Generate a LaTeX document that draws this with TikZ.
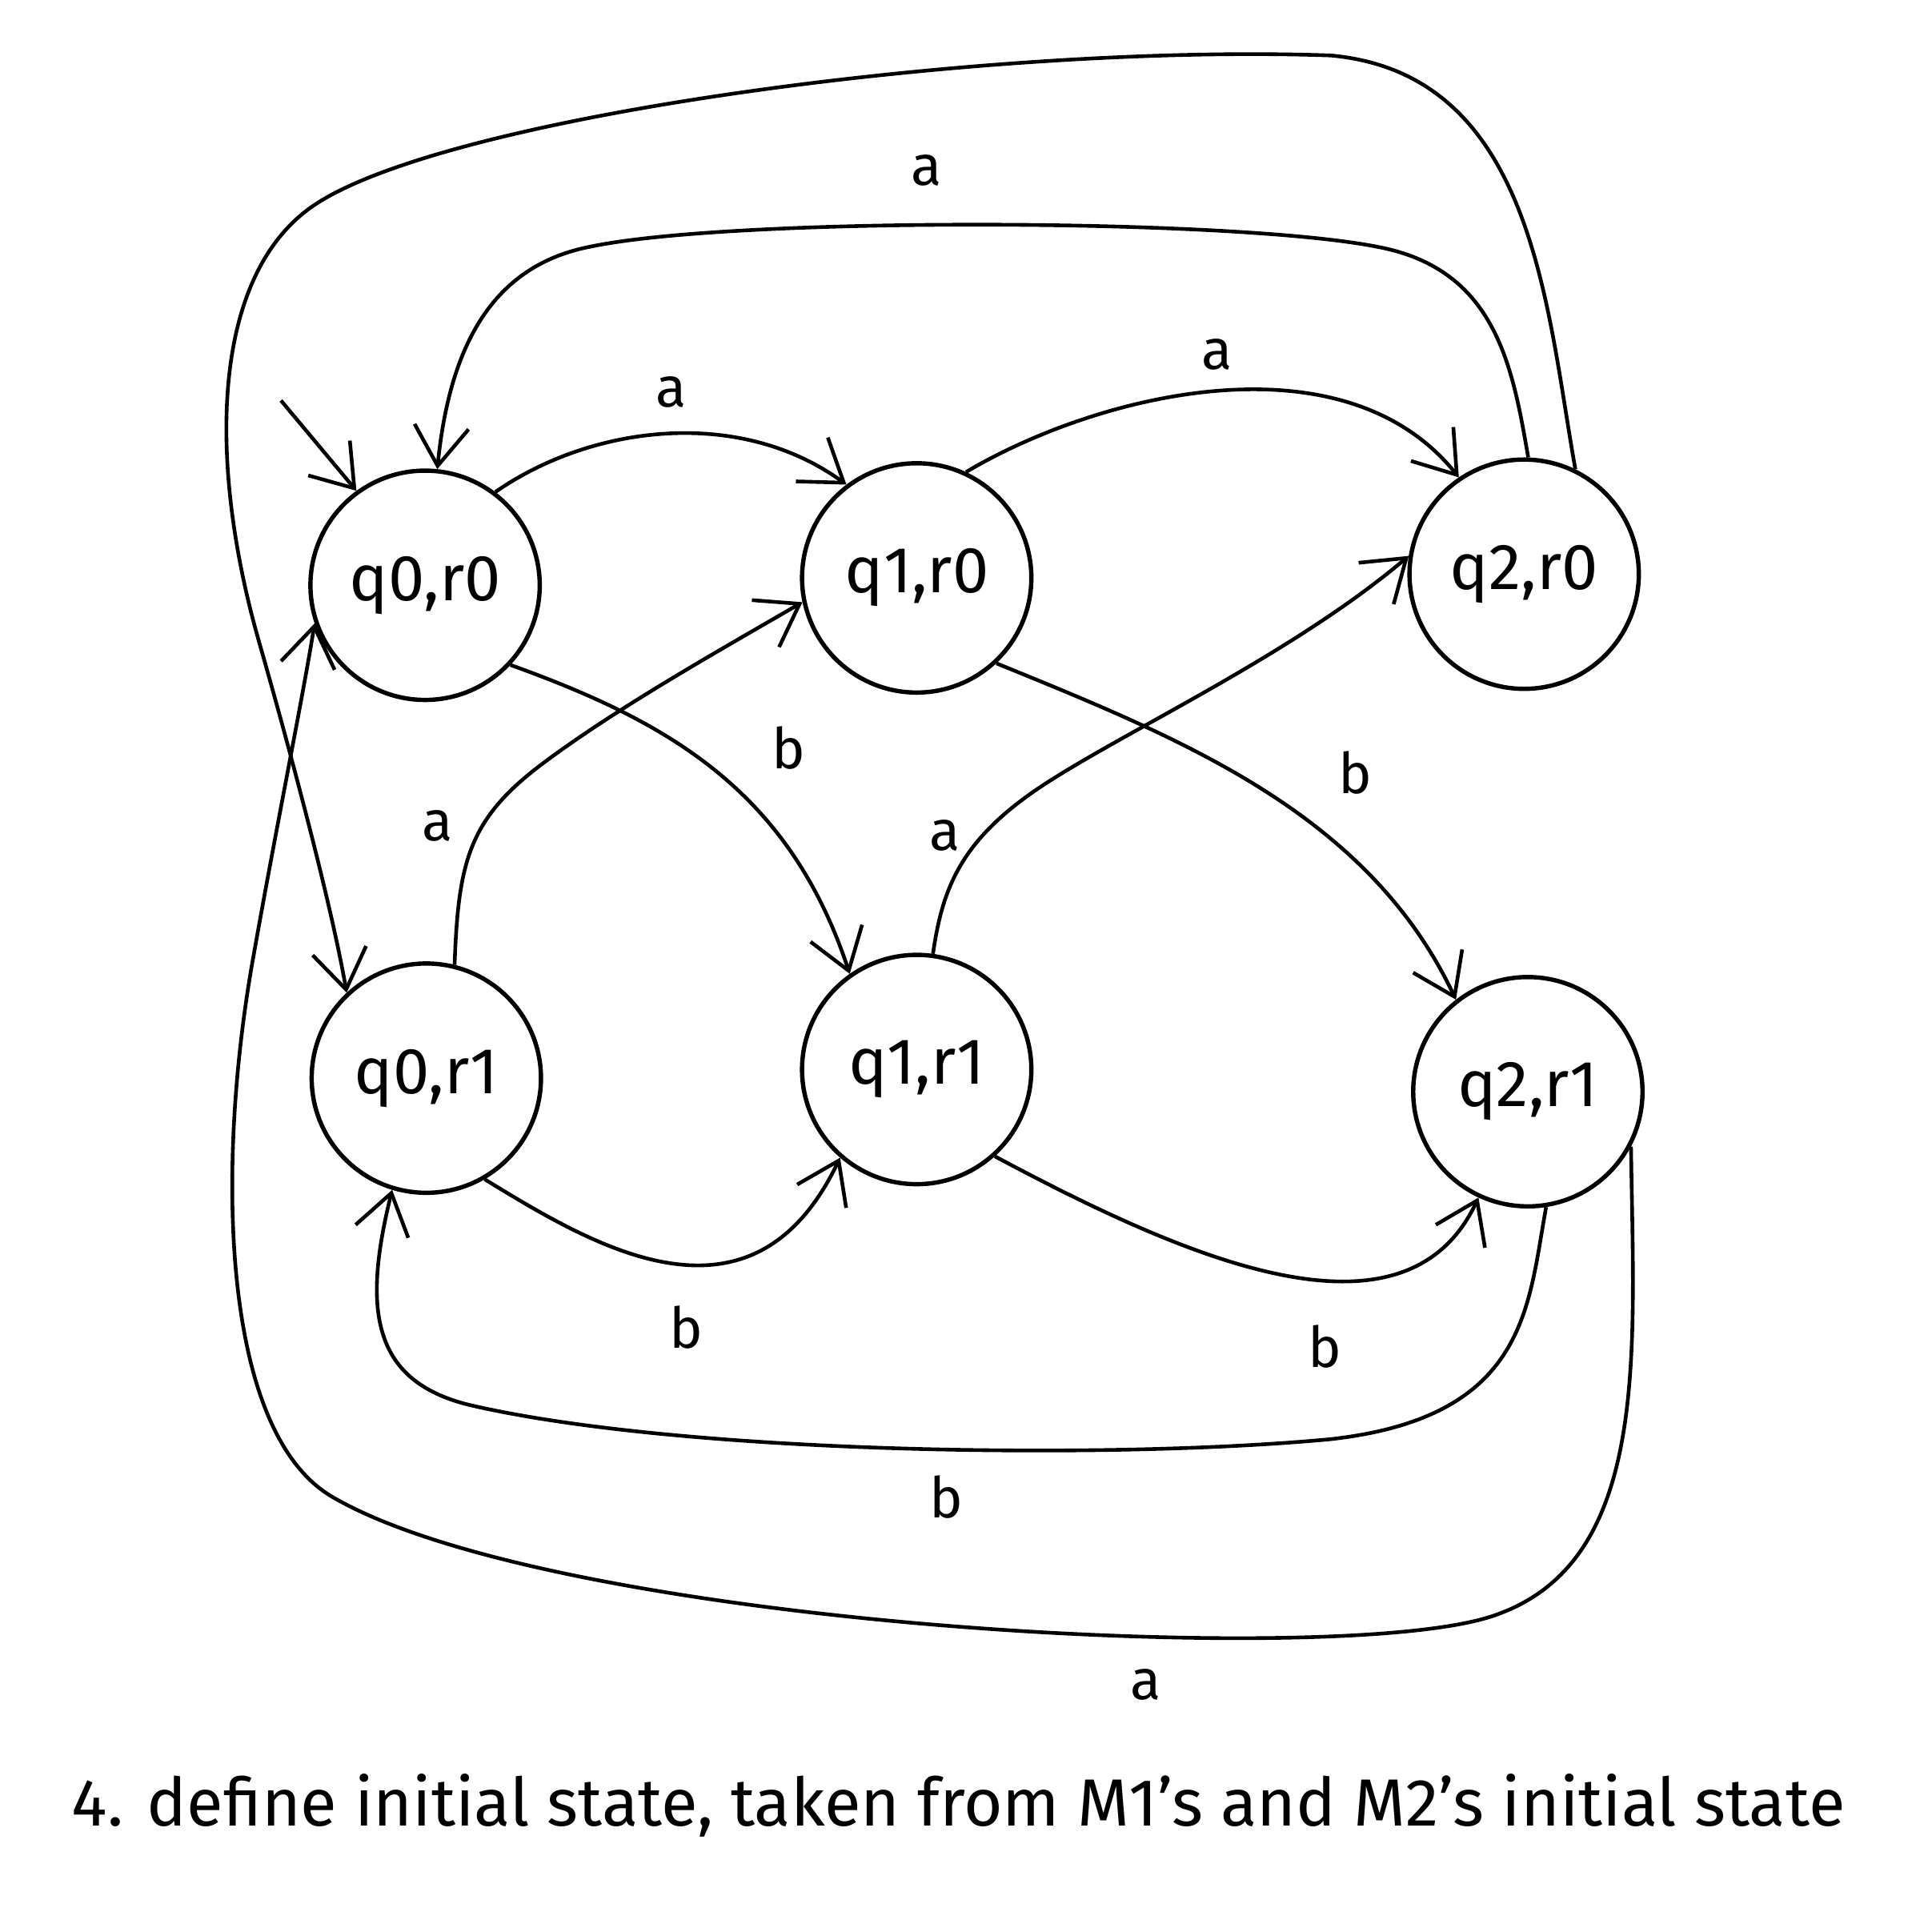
\documentclass[tikz,border=0pt]{standalone}
\usepackage{fontspec}
\setmainfont{Fira Sans}
\usetikzlibrary{arrows.meta}
\begin{document}
\begin{tikzpicture}[x=0.01cm,y=-0.01cm,
  state/.style={circle,draw,line width=1pt,minimum size=1.86cm,inner sep=0pt,font=\fontsize{15}{17}\selectfont},
  edge/.style={line width=0.85pt,-{Straight Barb[length=3.2mm,width=4.4mm,line width=0.85pt]}},
  lbl/.style={font=\fontsize{13}{15}\selectfont,inner sep=0pt}]
\useasboundingbox[fill=white] (0,0) rectangle (1568,1568);
\node[state] (q00) at (345,475) {q0,r0};
\node[state] (q10) at (744,469) {q1,r0};
\node[state] (q20) at (1237,466) {q2,r0};
\node[state] (q01) at (346,875) {q0,r1};
\node[state] (q11) at (744,868) {q1,r1};
\node[state] (q21) at (1240,886) {q2,r1};
\coordinate (init) at (228,325);
% initial
\draw[edge] (init) -- (q00.126);
% q0r0 -> q1r0
\draw[edge] (q00.53) .. controls (480,345) and (600,330) .. (q10.127);
% q1r0 -> q2r0
\draw[edge] (q10.65) .. controls (890,320) and (1090,270) .. (q20.124);
% q2r0 -> q0r0 inner top
\draw[edge] (q20.88) .. controls (1228,300) and (1215,225) .. (1130,203)
  .. controls (1030,177) and (600,175) .. (480,200)
  .. controls (400,215) and (365,280) .. (q00.84);
% q2r0 -> q0r1 outer top
\draw[edge] (q20.64) .. controls (1255,250) and (1245,60) .. (1080,45)
  .. controls (800,35) and (350,95) .. (250,170)
  .. controls (170,230) and (170,380) .. (210,520)
  .. controls (240,625) and (270,740) .. (q01.133);
% q2r1 -> q0r0 outer bottom
\draw[edge] (q21.-28) .. controls (1326,1100) and (1340,1270) .. (1210,1312)
  .. controls (1080,1354) and (450,1320) .. (270,1215)
  .. controls (180,1163) and (175,950) .. (205,780)
  .. controls (225,667) and (245,570) .. (q00.199);
% q2r1 -> q0r1 inner bottom
\draw[edge] (q21.-81) .. controls (1240,1060) and (1240,1150) .. (1080,1168)
  .. controls (900,1185) and (550,1180) .. (380,1140)
  .. controls (300,1120) and (295,1060) .. (q01.253);
% q0r0 -> q1r1
\draw[edge] (q00.-43) .. controls (540,585) and (640,640) .. (q11.125);
% q1r0 -> q2r1
\draw[edge] (q10.-47) .. controls (960,600) and (1110,660) .. (q21.128);
% q0r1 -> q1r0
\draw[edge] (q01.76) .. controls (372,700) and (380,665) .. (440,620)
  .. controls (500,575) and (580,530) .. (q10.192);
% q1r1 -> q2r0
\draw[edge] (q11.82) .. controls (765,720) and (780,680) .. (850,635)
  .. controls (920,590) and (1050,530) .. (q20.171);
% q0r1 -> q1r1
\draw[edge] (q01.-60) .. controls (480,1010) and (610,1090) .. (q11.229);
% q1r1 -> q2r1
\draw[edge] (q11.-48) .. controls (960,1020) and (1140,1100) .. (q21.245);
% labels
\node[lbl] (la1) at (545,318) {a};
\node[lbl] (la2) at (988,288) {a};
\node[lbl] (la3) at (752,138) {a};
\node[lbl] (la4) at (355,670) {a};
\node[lbl] (la5) at (767,678) {a};
\node[lbl] (la6) at (930,1367) {a};
\node[lbl] (lb1) at (640,607) {b};
\node[lbl] (lb2) at (1100,627) {b};
\node[lbl] (lb3) at (557,1077) {b};
\node[lbl] (lb4) at (1075,1093) {b};
\node[lbl] (lb5) at (768,1215) {b};
\node[font=\fontsize{15.4}{17}\selectfont] (cap) at (778,1465) {4. define initial state, taken from M1's and M2's initial state};
\end{tikzpicture}
\end{document}
